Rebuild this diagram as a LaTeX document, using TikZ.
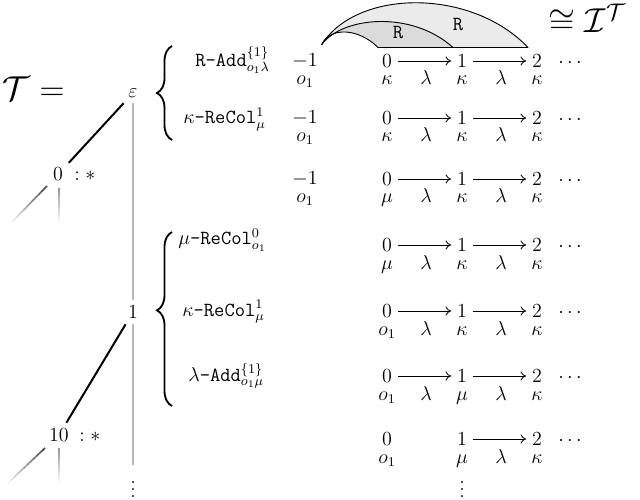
\documentclass[tikz,border=0pt]{standalone}
\usetikzlibrary{calc,decorations.pathreplacing,arrows.meta}
\begin{document}
\begin{tikzpicture}[x=0.6pt,y=-0.6pt,
  every node/.style={inner sep=3.33pt,font=\large},
  lab/.style={anchor=base,inner sep=0pt},
  labw/.style={anchor=base west,inner sep=0pt},
  bigtext/.style={font=\fontsize{21.5pt}{26pt}\selectfont},
  arr/.style={-{To[length=3.4pt,width=5.4pt]},line width=0.5pt},
  tedge/.style={line width=1.2pt,black},
  spine/.style={line width=0.9pt,black!28},
  bracestyle/.style={line width=1.1pt,decorate,decoration={brace,amplitude=9pt}},
  arcline/.style={line width=0.55pt},
  innerfill/.style={fill=black!14},
  outerfill/.style={fill=black!8},
]
\useasboundingbox (0,0) rectangle (640,500);

% titles
\node[labw,bigtext] (T) at (2,101) {$\mathcal{T} =$};
\node[labw,bigtext] (IT) at (548,33) {$\cong \mathcal{I}^{\mathcal{T}}$};

% tree
\node (eps) at (133,93) {$\varepsilon$};
\node (t0) at (58,174.5) {$0$};
\node[labw] (t0s) at (74,180.5) {$:\ast$};
\node (t1) at (133,312) {$1$};
\node (t10) at (59,435) {$10$};
\node[labw] (t10s) at (79,441) {$:\ast$};
\node[lab] (tvd) at (133,497) {$\vdots$};
\draw[tedge] (eps) -- (t0);
\draw[tedge] (t1) -- (t10);
\draw[spine] (eps) -- (t1);
\draw[spine, shorten >=4pt] (t1) -- (tvd);

% faded branches
\coordinate (a0s) at (47,186); \coordinate (a0e) at (12,222);
\coordinate (b0s) at (59,188); \coordinate (b0e) at (59,222);
\coordinate (a1s) at (45,448); \coordinate (a1e) at (8,483);
\coordinate (b1s) at (59,448); \coordinate (b1e) at (59,483);
\foreach \p/\q/\cc in {a0s/a0e/72, b0s/b0e/40, a1s/a1e/72, b1s/b1e/40}{
  \foreach \i in {0,...,11}{
    \pgfmathtruncatemacro\shd{\cc*(1-\i/12)}
    \draw[line width=1pt, black!\shd] ($(\p)!{\i/12}!(\q)$) -- ($(\p)!{(\i+1)/12}!(\q)$);
  }
}

% braces
\draw[bracestyle] (172,140) -- (172,46);
\draw[bracestyle, decoration={aspect=0.55}] (172,406) -- (172,232);

% rule labels
\node[labw] (rA) at (195,66.4) {$\texttt{R-Add}^{\{1\}}_{o_1\lambda}$};
\node[labw] (rB) at (183,123.4) {$\kappa\texttt{-ReCol}^{1}_{\mu}$};
\node[labw] (rC) at (178,245) {$\mu\texttt{-ReCol}^{0}_{o_1}$};
\node[labw] (rD) at (182,316) {$\kappa\texttt{-ReCol}^{1}_{\mu}$};
\node[labw] (rE) at (188,381) {$\lambda\texttt{-Add}^{\{1\}}_{o_1\mu}$};

% rows
\foreach \rw/\y/\la/\lb/\lc/\f in {1/61/\kappa/\kappa/\kappa/1, 2/118/\kappa/\kappa/\kappa/1, 3/179/\mu/\kappa/\kappa/1, 4/245/\mu/\kappa/\kappa/1, 5/311/o_1/\kappa/\kappa/1, 6/376/o_1/\mu/\kappa/1, 7/439/o_1/\mu/\kappa/0}{
  \node (r\rw c0) at (387,\y) {$0$};
  \node (r\rw c1) at (462,\y) {$1$};
  \node (r\rw c2) at (537,\y) {$2$};
  \node[lab] (r\rw l0) at (387,{\y+24}) {$\la$};
  \node[lab] (r\rw l1) at (462,{\y+24}) {$\lb$};
  \node[lab] (r\rw l2) at (537,{\y+24}) {$\lc$};
  \node[lab] (r\rw d) at (570,{\y+6.4}) {$\cdots$};
  \draw[arr] (r\rw c1) -- (r\rw c2);
  \node[lab] (r\rw m2) at (501,{\y+24}) {$\lambda$};
  \ifnum\f=1
    \draw[arr] (r\rw c0) -- (r\rw c1);
    \node[lab] (r\rw m1) at (426,{\y+24}) {$\lambda$};
  \fi
}
\node[lab] (cvd) at (462,497) {$\vdots$};

% -1 column
\foreach \rw/\y in {1/61, 2/118, 3/179}{
  \node (m\rw) at (305,\y) {$-1$};
  \node[lab] (m\rw o) at (305,{\y+24}) {$o_1$};
}

% arcs
\coordinate (A) at ($(m1.north east)+(-2,-3)$);
\coordinate (B0) at ($(r1c0.north west)+(2,-1)$);
\coordinate (B1) at ($(r1c1.north west)+(2,-1)$);
\coordinate (B2) at ($(r1c2.north west)+(2,-1)$);
\fill[outerfill] (A) .. controls +(20,-28) and +(-42,-38) .. (B1) -- (B2) .. controls +(-57,-60) and +(35,-56) .. (A) -- cycle;
\fill[innerfill] (A) .. controls +(8,-18) and +(-20,-20) .. (B0) -- (B1) .. controls +(-42,-38) and +(20,-28) .. (A) -- cycle;
\draw[arcline] (A) .. controls +(8,-18) and +(-20,-20) .. (B0);
\draw[arcline] (A) .. controls +(20,-28) and +(-42,-38) .. (B1);
\draw[arcline] (A) .. controls +(35,-56) and +(-57,-60) .. (B2);
\draw[arcline] (B0) -- (B2);
\node (R1) at (398,33) {\texttt{R}};
\node (R2) at (458,25) {\texttt{R}};
\end{tikzpicture}
\end{document}
